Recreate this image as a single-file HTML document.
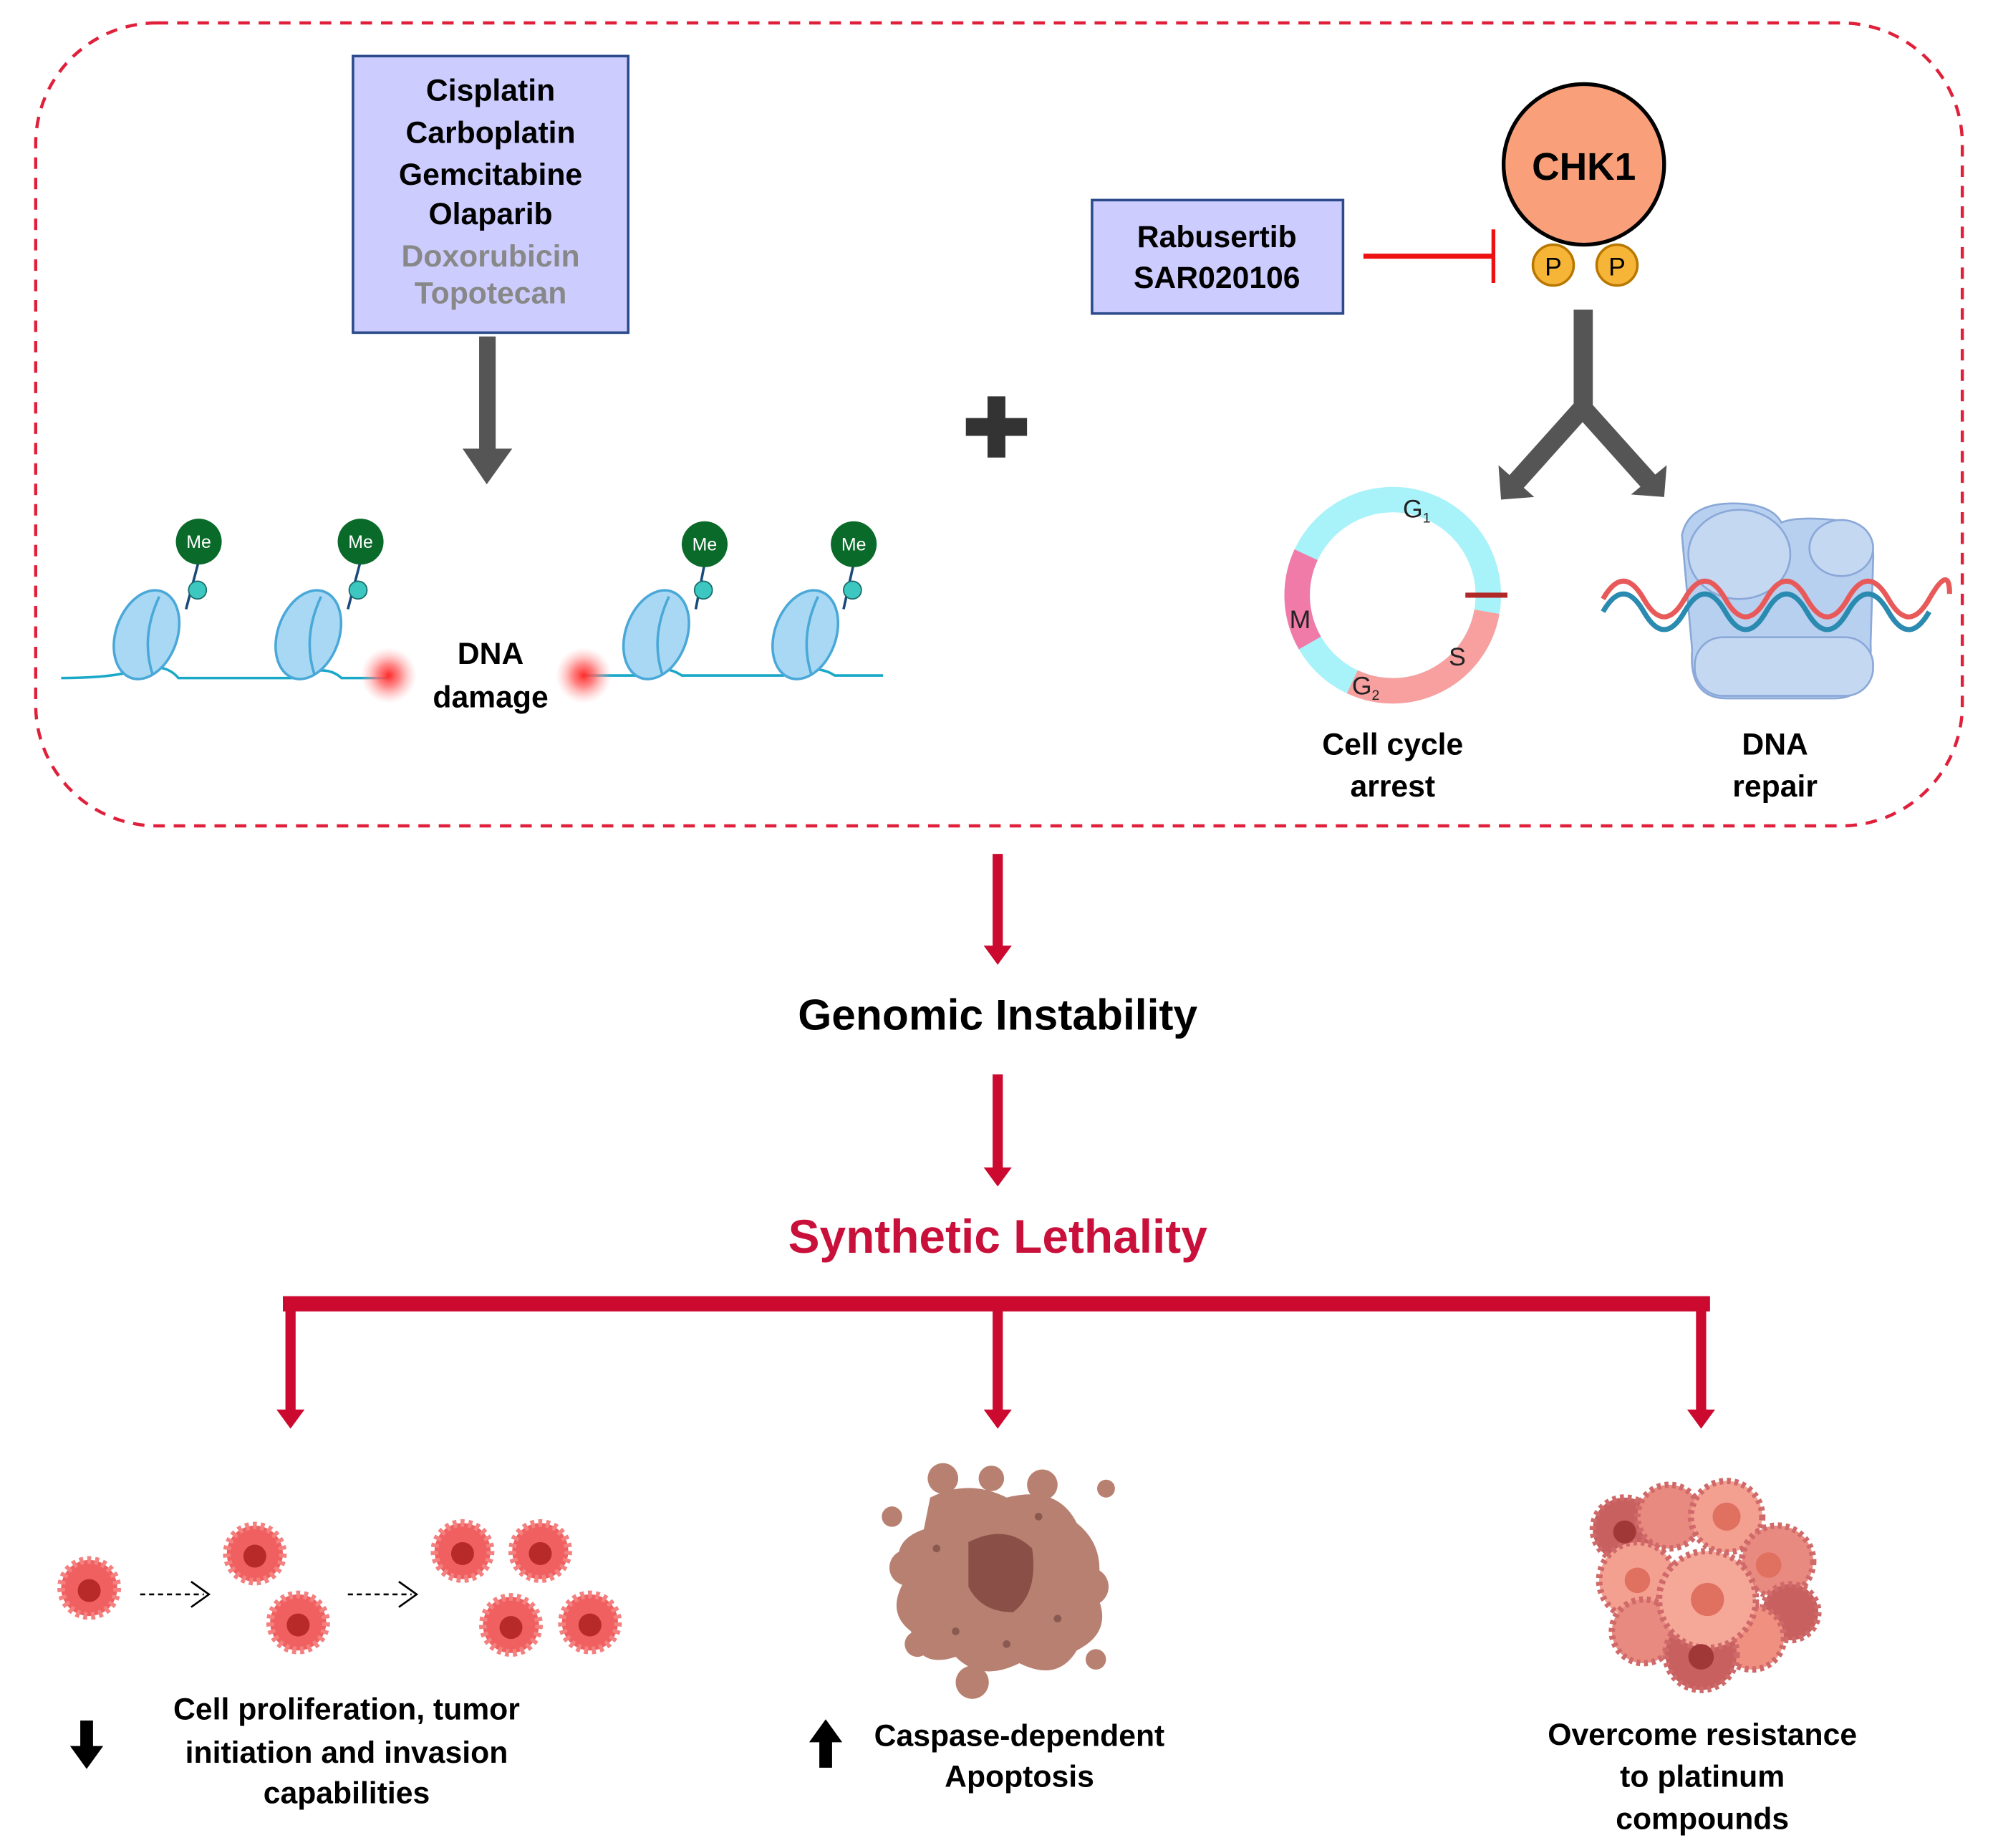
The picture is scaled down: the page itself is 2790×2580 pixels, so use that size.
<!DOCTYPE html>
<html><head><meta charset="utf-8"><style>
html,body{margin:0;padding:0;background:#fff;}
svg{display:block;}
text{font-family:"Liberation Sans",Arial,sans-serif;font-weight:bold;}
</style></head><body>
<svg width="2790" height="2580" viewBox="0 0 1568 1450" preserveAspectRatio="none" xmlns="http://www.w3.org/2000/svg">
<defs>
<radialGradient id="glow"><stop offset="0" stop-color="#ff2a2a"/><stop offset="0.4" stop-color="#ff6a6a" stop-opacity="0.8"/><stop offset="1" stop-color="#ffb0b0" stop-opacity="0"/></radialGradient>
</defs>
<rect x="28" y="18" width="1512" height="630" rx="95" ry="95" fill="none" stroke="#e0203a" stroke-width="2.5" stroke-dasharray="9,7"/>

<rect x="277" y="44" width="216" height="217" fill="#ccccff" stroke="#2a4a8a" stroke-width="2"/>
<g font-size="24" text-anchor="middle">
<text x="385" y="79" fill="#000">Cisplatin</text>
<text x="385" y="112" fill="#000">Carboplatin</text>
<text x="385" y="145" fill="#000">Gemcitabine</text>
<text x="385" y="176" fill="#000">Olaparib</text>
<text x="385" y="209" fill="#888">Doxorubicin</text>
<text x="385" y="238" fill="#888">Topotecan</text>
</g>
<rect x="376" y="264" width="13" height="90" fill="#555"/>
<polygon points="363,352 402,352 382,380" fill="#555"/>

<rect x="775" y="311" width="14" height="48" fill="#333"/>
<rect x="758" y="328" width="48" height="14" fill="#333"/>

<rect x="857" y="157" width="197" height="89" fill="#ccccff" stroke="#2a4a8a" stroke-width="2"/>
<g font-size="24" text-anchor="middle" fill="#000">
<text x="955" y="194">Rabusertib</text>
<text x="955" y="226">SAR020106</text>
</g>
<line x1="1070" y1="201" x2="1172" y2="201" stroke="#ee1111" stroke-width="4"/>
<line x1="1172" y1="180" x2="1172" y2="222" stroke="#ee1111" stroke-width="3"/>

<circle cx="1243" cy="129" r="63" fill="#f9a07a" stroke="#000" stroke-width="3"/>
<text x="1243" y="141" font-size="30" text-anchor="middle">CHK1</text>
<circle cx="1219" cy="208" r="16" fill="#f7b538" stroke="#b87800" stroke-width="2"/>
<circle cx="1269" cy="208" r="16" fill="#f7b538" stroke="#b87800" stroke-width="2"/>
<text x="1219" y="216" font-size="20" text-anchor="middle" style="font-weight:normal">P</text>
<text x="1269" y="216" font-size="20" text-anchor="middle" style="font-weight:normal">P</text>

<rect x="1235" y="243" width="15" height="80" fill="#555"/>
<polyline points="1242,320 1190,378" stroke="#555" stroke-width="15" fill="none"/>
<polyline points="1242,320 1294,378" stroke="#555" stroke-width="15" fill="none"/>
<polygon points="1176,365 1178,392 1204,390" fill="#555"/>
<polygon points="1308,365 1306,390 1280,388" fill="#555"/>

<circle cx="1093" cy="467" r="75" fill="none" stroke="#a8f2fa" stroke-width="20"/>
<path d="M1166.9,480 A75,75 0 0 1 1061.3,535" fill="none" stroke="#f8a0a0" stroke-width="20"/>
<path d="M1028,504.5 A75,75 0 0 1 1025,435.3" fill="none" stroke="#f07aa8" stroke-width="20"/>
<line x1="1150" y1="467" x2="1183" y2="467" stroke="#b02828" stroke-width="4"/>
<g font-size="20" fill="#222">
<text x="1101" y="406" style="font-weight:normal">G<tspan font-size="11" dy="4">1</tspan></text>
<text x="1012" y="493" style="font-weight:normal">M</text>
<text x="1137" y="522" style="font-weight:normal">S</text>
<text x="1061" y="545" style="font-weight:normal">G<tspan font-size="11" dy="4">2</tspan></text>
</g>
<g font-size="24" text-anchor="middle" fill="#000">
<text x="1093" y="592">Cell cycle</text>
<text x="1093" y="625">arrest</text>
<text x="1393" y="592">DNA</text>
<text x="1393" y="625">repair</text>
</g>

<g stroke="#8aa8d8" stroke-width="1.5" fill="#b8d0f0">
<path d="M1320,420 Q1325,395 1360,395 Q1390,395 1398,410 Q1410,405 1440,408 Q1472,412 1470,440 L1468,505 Q1470,548 1440,548 L1355,548 Q1325,548 1328,510 Z"/>
<ellipse cx="1365" cy="435" rx="40" ry="35" fill="#c4d8f2"/>
<ellipse cx="1445" cy="430" rx="25" ry="22" fill="#c4d8f2"/>
<rect x="1330" y="500" width="140" height="46" rx="22" fill="#c4d8f2"/>
</g>
<path d="M1258,470 q16,-28 32,0 q16,28 32,0 q16,-28 32,0 q16,28 32,0 q16,-28 32,0 q16,28 32,0 q16,-28 32,0 q16,28 32,0 q16,-28 16,-4" fill="none" stroke="#e85a5a" stroke-width="4"/>
<path d="M1258,490 q16,-28 32,0 q16,28 32,0 q16,-28 32,0 q16,28 32,0 q16,-28 32,0 q16,28 32,0 q16,-28 32,0 q16,28 32,0" transform="translate(0,-10)" fill="none" stroke="#2a8ab0" stroke-width="4"/>

<path d="M48,532 Q90,532 110,525 Q130,520 140,532 L230,532 Q255,520 268,532 L305,532" fill="none" stroke="#19a8c8" stroke-width="2"/>
<path d="M458,530 L505,530 Q520,520 535,530 L615,530 Q640,520 655,530 L693,530" fill="none" stroke="#19a8c8" stroke-width="2"/>
<g fill="#a8d8f4" stroke="#4aa8d8" stroke-width="2">
<ellipse cx="115" cy="498" rx="24" ry="36" transform="rotate(20 115 498)"/>
<ellipse cx="242" cy="498" rx="24" ry="36" transform="rotate(20 242 498)"/>
<ellipse cx="515" cy="498" rx="24" ry="36" transform="rotate(20 515 498)"/>
<ellipse cx="632" cy="498" rx="24" ry="36" transform="rotate(20 632 498)"/>
</g>
<g fill="none" stroke="#4aa8d8" stroke-width="2">
<path d="M125,468 Q110,500 120,530"/><path d="M252,468 Q237,500 247,530"/><path d="M525,468 Q510,500 520,530"/><path d="M642,468 Q627,500 637,530"/>
</g>
<g stroke="#1a4a7a" stroke-width="2">
<line x1="156" y1="440" x2="146" y2="478"/><line x1="283" y1="440" x2="273" y2="478"/>
<line x1="553" y1="442" x2="546" y2="478"/><line x1="670" y1="442" x2="662" y2="478"/>
</g>
<g fill="#3cc8c0" stroke="#1a6a6a" stroke-width="1">
<circle cx="155" cy="463" r="7"/><circle cx="281" cy="463" r="7"/><circle cx="552" cy="463" r="7"/><circle cx="669" cy="463" r="7"/>
</g>
<g fill="#0a6a2a">
<circle cx="156" cy="425" r="18"/><circle cx="283" cy="425" r="18"/><circle cx="553" cy="427" r="18"/><circle cx="670" cy="427" r="18"/>
</g>
<g font-size="14" fill="#fff" text-anchor="middle">
<text x="156" y="430" style="font-weight:normal">Me</text><text x="283" y="430" style="font-weight:normal">Me</text>
<text x="553" y="432" style="font-weight:normal">Me</text><text x="670" y="432" style="font-weight:normal">Me</text>
</g>
<circle cx="305" cy="530" r="22" fill="url(#glow)"/>
<circle cx="458" cy="530" r="22" fill="url(#glow)"/>
<g font-size="24" text-anchor="middle" fill="#000">
<text x="385" y="521">DNA</text>
<text x="385" y="555">damage</text>
</g>

<g fill="#cc0a30">
<rect x="779" y="670" width="8" height="75"/><polygon points="772,742 794,742 783,757"/>
<rect x="779" y="843" width="8" height="75"/><polygon points="772,916 794,916 783,931"/>
<rect x="222" y="1017" width="1120" height="12"/>
<rect x="224" y="1023" width="8" height="85"/><polygon points="217,1106 239,1106 228,1121"/>
<rect x="779" y="1023" width="8" height="85"/><polygon points="772,1106 794,1106 783,1121"/>
<rect x="1331" y="1023" width="8" height="85"/><polygon points="1324,1106 1346,1106 1335,1121"/>
</g>
<text x="783" y="808" font-size="34" text-anchor="middle" fill="#000">Genomic Instability</text>
<text x="783" y="983" font-size="37" text-anchor="middle" fill="#c8103a">Synthetic Lethality</text>

<g>
<g fill="#f06060" stroke="#f48080" stroke-width="6" stroke-dasharray="3,3">
<circle cx="70" cy="1246" r="22"/><circle cx="200" cy="1219" r="22"/><circle cx="234" cy="1273" r="22"/>
<circle cx="363" cy="1217" r="22"/><circle cx="424" cy="1217" r="22"/><circle cx="401" cy="1275" r="22"/><circle cx="463" cy="1273" r="22"/>
</g>
<g fill="#b82a2a">
<circle cx="70" cy="1248" r="9"/><circle cx="200" cy="1221" r="9"/><circle cx="234" cy="1275" r="9"/>
<circle cx="363" cy="1219" r="9"/><circle cx="424" cy="1219" r="9"/><circle cx="401" cy="1277" r="9"/><circle cx="463" cy="1275" r="9"/>
</g>
<g stroke="#000" stroke-width="1.5" fill="none">
<line x1="110" y1="1251" x2="160" y2="1251" stroke-dasharray="4,3"/><polyline points="150,1241 164,1251 150,1261"/>
<line x1="273" y1="1251" x2="323" y2="1251" stroke-dasharray="4,3"/><polyline points="313,1241 327,1251 313,1261"/>
</g>
</g>

<g fill="#b88070">
<path d="M730,1175 Q760,1160 790,1175 Q830,1165 845,1195 Q870,1215 860,1250 Q875,1280 845,1295 Q830,1320 800,1305 Q770,1320 750,1300 Q720,1310 715,1280 Q695,1265 710,1240 Q695,1210 725,1200 Z"/>
<circle cx="740" cy="1160" r="12"/><circle cx="778" cy="1160" r="10"/><circle cx="818" cy="1165" r="12"/><circle cx="868" cy="1168" r="7"/>
<circle cx="700" cy="1190" r="8"/><circle cx="720" cy="1290" r="10"/><circle cx="763" cy="1320" r="13"/><circle cx="860" cy="1302" r="8"/>
<circle cx="855" cy="1245" r="15"/><circle cx="712" cy="1230" r="14"/>
</g>
<path d="M760,1210 Q790,1195 810,1215 Q815,1250 795,1265 Q770,1265 760,1245 Z" fill="#8a5048"/>
<g fill="#8a5a50"><circle cx="735" cy="1215" r="3"/><circle cx="830" cy="1270" r="3"/><circle cx="750" cy="1280" r="3"/><circle cx="815" cy="1190" r="3"/><circle cx="790" cy="1290" r="3"/></g>

<g stroke="#d06a6a" stroke-width="5" stroke-dasharray="3,3">
<circle cx="1275" cy="1200" r="25" fill="#c86060"/>
<circle cx="1310" cy="1190" r="25" fill="#e88a80"/>
<circle cx="1355" cy="1190" r="28" fill="#f4a090"/>
<circle cx="1395" cy="1225" r="28" fill="#e88a80"/>
<circle cx="1285" cy="1240" r="30" fill="#f4a090"/>
<circle cx="1405" cy="1265" r="22" fill="#c86060"/>
<circle cx="1290" cy="1280" r="25" fill="#e88a80"/>
<circle cx="1375" cy="1285" r="25" fill="#f09080"/>
<circle cx="1335" cy="1298" r="28" fill="#c86060"/>
<circle cx="1340" cy="1255" r="38" fill="#f6a898"/>
</g>
<g fill="#e07060"><circle cx="1355" cy="1190" r="11"/><circle cx="1340" cy="1255" r="13"/><circle cx="1285" cy="1240" r="10"/><circle cx="1388" cy="1228" r="10"/><circle cx="1335" cy="1300" r="10" fill="#a03838"/><circle cx="1275" cy="1202" r="9" fill="#a03838"/></g>

<g font-size="24" text-anchor="middle" fill="#000">
<text x="272" y="1349">Cell proliferation, tumor</text>
<text x="272" y="1383">initiation and invasion</text>
<text x="272" y="1415">capabilities</text>
<text x="800" y="1370">Caspase-dependent</text>
<text x="800" y="1402">Apoptosis</text>
<text x="1336" y="1369">Overcome resistance</text>
<text x="1336" y="1402">to platinum</text>
<text x="1336" y="1435">compounds</text>
</g>
<g fill="#000">
<rect x="63" y="1350" width="10" height="22"/><polygon points="55,1370 81,1370 68,1388"/>
<rect x="643" y="1365" width="10" height="22"/><polygon points="635,1367 661,1367 648,1349"/>
</g>
</svg>
</body></html>
